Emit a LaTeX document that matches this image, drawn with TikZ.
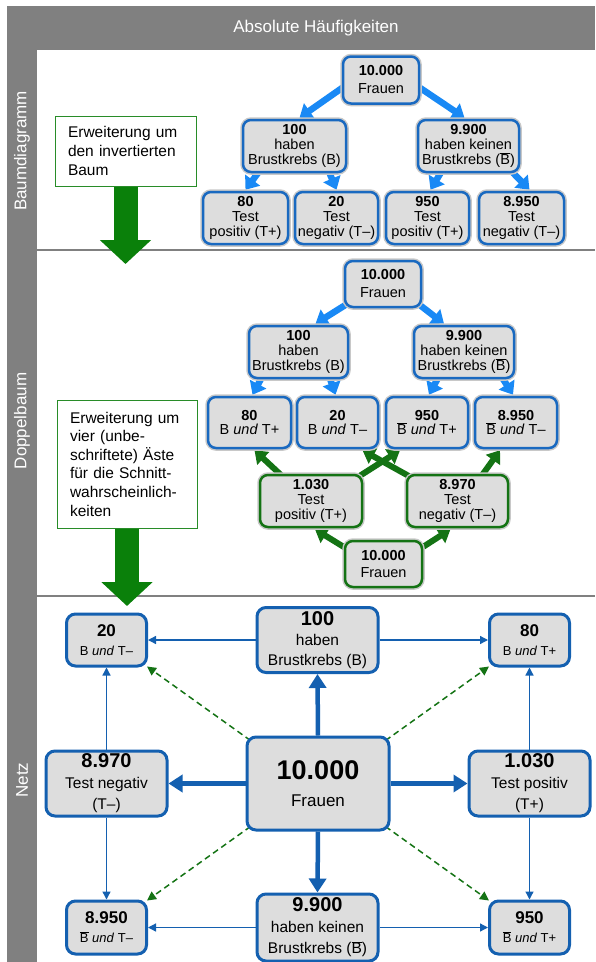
\documentclass[tikz,border=0pt]{standalone}
\usepackage{fontspec}
\setmainfont{Liberation Sans}
\usetikzlibrary{arrows.meta,calc}
\pgfdeclarelayer{bg}\pgfdeclarelayer{edges}
\pgfsetlayers{bg,edges,main}
\newcommand\fsz[2]{\fontsize{#1pt}{#2pt}\selectfont}
\newcommand\Bq{\ensuremath{\overline{\mbox{B}}}}
\definecolor{hgray}{HTML}{808080}
\definecolor{boxfill}{HTML}{DDDDDD}
\definecolor{glow}{HTML}{C8C8C8}
\definecolor{boxblue}{RGB}{25,105,192}
\definecolor{treeblue}{RGB}{25,137,245}
\definecolor{netblue}{RGB}{20,96,176}
\definecolor{dgreen}{RGB}{20,115,20}
\definecolor{bgreen}{RGB}{10,128,10}
\definecolor{egreen}{RGB}{40,140,40}
\begin{document}
\begin{tikzpicture}[x=1pt,y=-1pt,
  sz/.style 2 args={minimum width=#1pt, minimum height=#2pt},
  tbox/.style={draw=boxblue, fill=boxfill, line width=2.5pt, rounded corners=8pt, inner sep=0pt, align=center, font=\fsz{14.5}{14.8}, preaction={draw=glow, line width=5.5pt}},
  gbox/.style={tbox, draw=dgreen},
  nbox/.style={draw=netblue, fill=boxfill, line width=3pt, rounded corners=9pt, inner sep=0pt, align=center},
  ebox/.style={draw=egreen, fill=white, line width=1pt, align=left, inner xsep=13pt, inner ysep=0pt, font=\fsz{15.5}{19}},
  tarrow/.style={draw=treeblue, line width=6.5pt, -{Triangle[length=12pt,width=18pt]}},
  garrow/.style={draw=dgreen, line width=6pt, -{Triangle[length=12pt,width=17pt]}},
  nthin/.style={draw=netblue, line width=1.3pt, -{Triangle[length=8pt,width=8pt]}},
  nthick/.style={draw=netblue, line width=4.5pt, -{Triangle[length=14pt,width=17pt]}},
  ndash/.style={draw=dgreen, line width=1.5pt, dash pattern=on 6pt off 4pt, -{Triangle[length=9pt,width=9pt]}},
  bigarrow/.style={draw=bgreen, line width=24pt, -{Triangle[length=24pt,width=50pt]}},
  lbl/.style={text=white, font=\fsz{17}{17}, inner sep=0pt}
]
\useasboundingbox (0,0) rectangle (595,962);
\begin{pgfonlayer}{bg}
  \fill[white] (0,0) rectangle (595,962);
  \fill[hgray] (7,6) rectangle (595,50);
  \fill[hgray] (7,6) rectangle (37,962);
  \draw[hgray, line width=1.5pt] (37,250) -- (595,250);
  \draw[hgray, line width=1.5pt] (37,596) -- (595,596);
\end{pgfonlayer}
\node[lbl] (H) at (316,28) {Absolute Häufigkeiten};
\node[lbl, rotate=90] (L1) at (22,151) {Baumdiagramm};
\node[lbl, rotate=90] (L2) at (22,421) {Doppelbaum};
\node[lbl, rotate=90] (L3) at (22,780) {Netz};

% ---------- Baumdiagramm ----------
\node[tbox, sz={76}{47}, font=\fsz{14.5}{18}] (T1) at (381,80) {\textbf{10.000}\\Frauen};
\node[tbox, sz={103}{52}] (T2L) at (294.5,146) {\textbf{100}\\haben\\Brustkrebs (B)};
\node[tbox, sz={101}{52}] (T2R) at (468.5,146) {\textbf{9.900}\\haben keinen\\Brustkrebs (\Bq)};
\node[tbox, sz={85}{52}] (T3a) at (245.5,218) {\textbf{80}\\Test\\positiv (T+)};
\node[tbox, sz={83}{52}] (T3b) at (336.5,218) {\textbf{20}\\Test\\negativ (T–)};
\node[tbox, sz={83}{52}] (T3c) at (427.5,218) {\textbf{950}\\Test\\positiv (T+)};
\node[tbox, sz={85}{52}] (T3d) at (521.5,218) {\textbf{8.950}\\Test\\negativ (T–)};
\node[ebox, sz={141}{70}, text width=115pt] (E1) at (125.5,151) {Erweiterung um\\den invertierten\\Baum};
\coordinate (E1tip) at (125.5,264);

\begin{pgfonlayer}{edges}
\draw[tarrow] ($(T1.west)+(6,4)$) -- ($(T2L.north)+(5,-1)$);
\draw[tarrow] ($(T1.east)+(-6,4)$) -- ($(T2R.north)+(-4,-1)$);
\draw[tarrow] ($(T2L.south)+(-33,-5)$) -- ($(T3a.north)+(0,-1)$);
\draw[tarrow] ($(T2L.south)+(33,-5)$) -- ($(T3b.north)+(0,-1)$);
\draw[tarrow] ($(T2R.south)+(-25,-5)$) -- ($(T3c.north)+(3,-1)$);
\draw[tarrow] ($(T2R.south)+(40,-5)$) -- ($(T3d.north)+(8,-1)$);
\draw[bigarrow] (E1.south) -- (E1tip);
\end{pgfonlayer}

% ---------- Doppelbaum ----------
\node[tbox, sz={76}{46}, font=\fsz{14.5}{18}] (M1) at (383,284) {\textbf{10.000}\\Frauen};
\node[tbox, sz={99}{52}] (M2L) at (298.5,352) {\textbf{100}\\haben\\Brustkrebs (B)};
\node[tbox, sz={100}{52}] (M2R) at (464,352) {\textbf{9.900}\\haben keinen\\Brustkrebs (\Bq)};
\node[tbox, sz={83}{51}] (M3a) at (249.5,422.5) {\textbf{80}\\B \textit{und} T+};
\node[tbox, sz={81}{51}] (M3b) at (337.5,422.5) {\textbf{20}\\B \textit{und} T–};
\node[tbox, sz={82}{51}] (M3c) at (427,422.5) {\textbf{950}\\\Bq\ \textit{und} T+};
\node[tbox, sz={82}{51}] (M3d) at (516,422.5) {\textbf{8.950}\\\Bq\ \textit{und} T–};
\node[gbox, sz={102}{52}] (G1) at (311,501) {\textbf{1.030}\\Test\\positiv (T+)};
\node[gbox, sz={101}{52}] (G2) at (457.5,501) {\textbf{8.970}\\Test\\negativ (T–)};
\node[gbox, sz={77}{46}, font=\fsz{14.5}{17}] (G0) at (383.5,564) {\textbf{10.000}\\Frauen};
\node[ebox, sz={140}{128}, text width=114pt, font=\fsz{15.5}{18.6}] (E2) at (127,464) {Erweiterung um\\vier (unbe-\\schriftete) Äste\\für die Schnitt-\\wahrscheinlich-\\keiten};
\coordinate (E2tip) at (127,606);

\begin{pgfonlayer}{edges}
\draw[tarrow] ($(M1.south west)+(6,-6)$) -- ($(M2L.north)+(17,-1)$);
\draw[tarrow] ($(M1.south east)+(-6,-6)$) -- ($(M2R.north)+(-20,-1)$);
\draw[tarrow] ($(M2L.south)+(-35,-5)$) -- ($(M3a.north)+(3,-1)$);
\draw[tarrow] ($(M2L.south)+(30,-5)$) -- ($(M3b.north)+(-2,-1)$);
\draw[tarrow] ($(M2R.south)+(-24,-5)$) -- ($(M3c.north)+(2,-1)$);
\draw[tarrow] ($(M2R.south)+(36,-5)$) -- ($(M3d.north)+(-3,-1)$);
\draw[garrow] ($(G1.north)+(-26,5)$) -- ($(M3a.south)+(5,1)$);
\draw[garrow] ($(G1.north east)+(-8,5)$) -- ($(M3c.south)+(-27,1)$);
\draw[garrow] ($(G2.north west)+(8,5)$) -- ($(M3b.south)+(25,1)$);
\draw[garrow] ($(G2.north)+(22,5)$) -- ($(M3d.south)+(-16,1)$);
\draw[garrow] ($(G0.west)+(5,-14)$) -- ($(G1.south)+(4,1)$);
\draw[garrow] ($(G0.east)+(-5,-14)$) -- ($(G2.south)+(-7,1)$);
\draw[bigarrow] (E2.south) -- (E2tip);
\end{pgfonlayer}

% ---------- Netz ----------
\node[nbox, sz={80}{52}, font=\fsz{13}{19}] (N20) at (106.5,640) {{\fsz{17}{19}\textbf{20}}\\B \textit{und} T–};
\node[nbox, sz={121}{65}, font=\fsz{15.5}{20}] (N100) at (317.5,640) {{\fsz{20}{20}\textbf{100}}\\haben\\Brustkrebs (B)};
\node[nbox, sz={80}{52}, font=\fsz{13}{19}] (N80) at (529.5,640) {{\fsz{17}{19}\textbf{80}}\\B \textit{und} T+};
\node[nbox, sz={121}{65}, font=\fsz{15.5}{21}] (N8970) at (106.5,783.5) {{\fsz{20}{20}\textbf{8.970}}\\Test negativ\\(T–)};
\node[nbox, sz={142}{93}, font=\fsz{17}{27}] (Nc) at (318,783.5) {{\fsz{27}{27}\textbf{10.000}}\\Frauen};
\node[nbox, sz={121}{65}, font=\fsz{15.5}{21}] (N1030) at (529.5,783.5) {{\fsz{20}{20}\textbf{1.030}}\\Test positiv\\(T+)};
\node[nbox, sz={80}{53}, font=\fsz{13}{19}] (N8950) at (106.5,927.5) {{\fsz{17}{19}\textbf{8.950}}\\\Bq\ \textit{und} T–};
\node[nbox, sz={121}{67}, font=\fsz{15.5}{21}] (N9900) at (317.5,927.5) {{\fsz{20}{20}\textbf{9.900}}\\haben keinen\\Brustkrebs (\Bq)};
\node[nbox, sz={80}{53}, font=\fsz{13}{19}] (N950) at (529.5,927.5) {{\fsz{17}{19}\textbf{950}}\\\Bq\ \textit{und} T+};

\begin{pgfonlayer}{edges}
\draw[nthin] (N100.west) -- (N20.east);
\draw[nthin] (N100.east) -- (N80.west);
\draw[nthin] (N8970.north) -- (N20.south);
\draw[nthin] (N8970.south) -- (N8950.north);
\draw[nthin] (N1030.north) -- (N80.south);
\draw[nthin] (N1030.south) -- (N950.north);
\draw[nthin] (N9900.west) -- (N8950.east);
\draw[nthin] (N9900.east) -- (N950.west);
\draw[nthick] (Nc.north) -- (N100.south);
\draw[nthick] (Nc.south) -- (N9900.north);
\draw[nthick] (Nc.west) -- (N8970.east);
\draw[nthick] (Nc.east) -- (N1030.west);
\draw[ndash] ($(Nc.north west)+(5,5)$) -- ($(N20.south east)+(-1,-1)$);
\draw[ndash] ($(Nc.north east)+(-5,5)$) -- ($(N80.south west)+(1,-1)$);
\draw[ndash] ($(Nc.south west)+(5,-5)$) -- ($(N8950.north east)+(-1,1)$);
\draw[ndash] ($(Nc.south east)+(-5,-5)$) -- ($(N950.north west)+(1,1)$);
\end{pgfonlayer}
\end{tikzpicture}
\end{document}
